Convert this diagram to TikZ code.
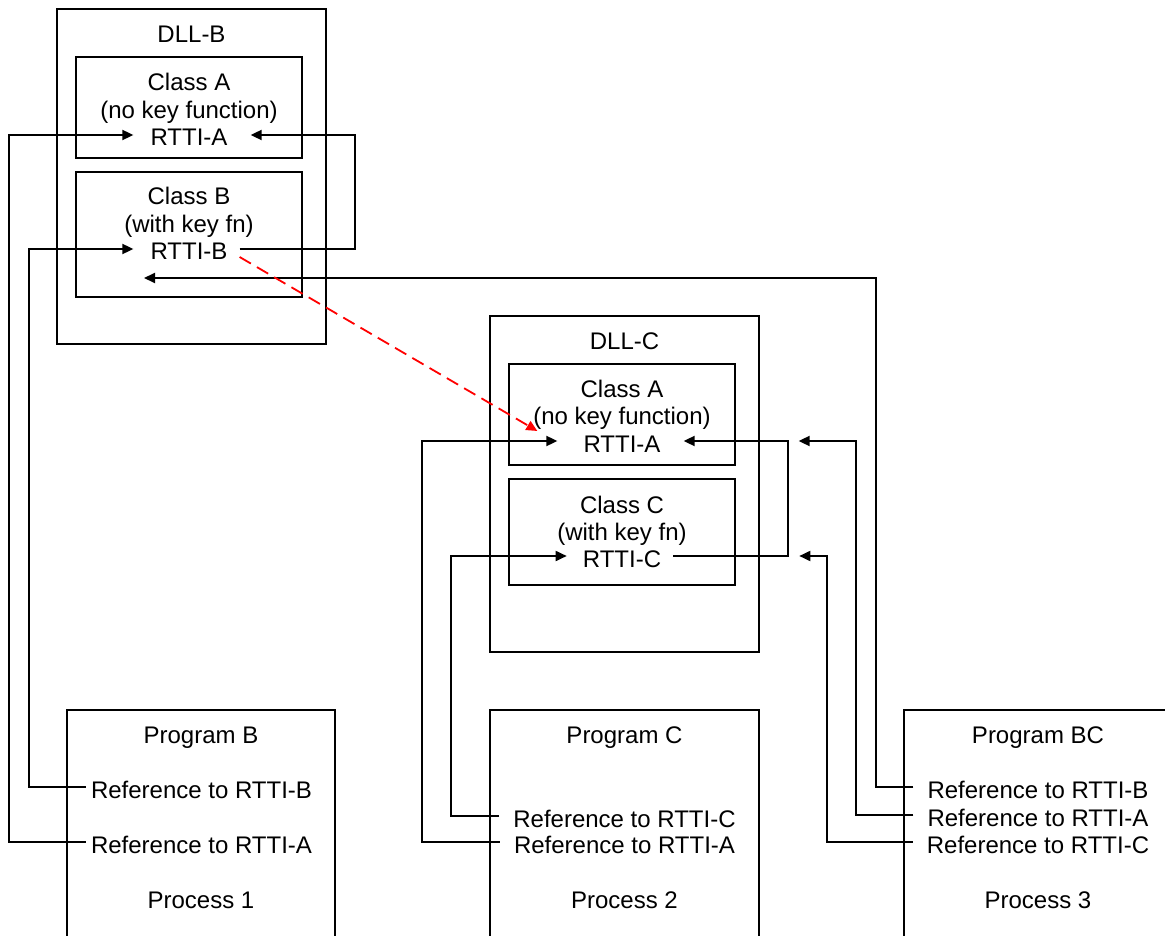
\documentclass[tikz,border=0pt]{standalone}
\usepackage{fontspec}
\setmainfont{Liberation Sans}
\usetikzlibrary{arrows.meta}
\begin{document}
\begin{tikzpicture}[x=1pt,y=-1pt,
  box/.style={draw, line width=2pt, inner sep=0pt},
  lbl/.style={font=\fontsize{24}{28}\selectfont, inner sep=0pt, text height=22pt, text depth=0pt, anchor=base},
  conn/.style={line width=1.8pt, -{Triangle[length=11pt,width=10pt]}},
  redconn/.style={line width=1.8pt, red, dash pattern=on 13pt off 7pt, -{Triangle[length=11pt,width=10pt]}}
]
\useasboundingbox (0,0) rectangle (1165,936);
\fill[white] (0,0) rectangle (1165,936);
\clip (0,0) rectangle (1165,936);

% ---- DLL-B ----
\node[box, minimum width=269pt, minimum height=335pt] (dllB) at (191.5,176.5) {};
\node[lbl] (dllBt) at (191.5,43) {DLL-B};
\node[box, minimum width=226pt, minimum height=101pt] (bAbox) at (189,107.5) {};
\node[lbl] (bA1) at (189,91) {Class A};
\node[lbl] (bA2) at (189,118.5) {(no key function)};
\node[lbl] (bArtti) at (189,146) {RTTI-A};
\node[box, minimum width=226pt, minimum height=125pt] (bBbox) at (189,234.5) {};
\node[lbl] (bB1) at (189,205) {Class B};
\node[lbl] (bB2) at (189,232.5) {(with key fn)};
\node[lbl] (bBrtti) at (189,260) {RTTI-B};
\coordinate (bBin) at (144,278);

% ---- DLL-C ----
\node[box, minimum width=269pt, minimum height=336pt] (dllC) at (624.5,484) {};
\node[lbl] (dllCt) at (624.5,349) {DLL-C};
\node[box, minimum width=226pt, minimum height=101pt] (cAbox) at (622,414.5) {};
\node[lbl] (cA1) at (622,397) {Class A};
\node[lbl] (cA2) at (622,424.5) {(no key function)};
\node[lbl] (cArtti) at (622,452) {RTTI-A};
\node[box, minimum width=226pt, minimum height=106pt] (cCbox) at (622,532) {};
\node[lbl] (cC1) at (622,513) {Class C};
\node[lbl] (cC2) at (622,540) {(with key fn)};
\node[lbl] (cCrtti) at (622,567) {RTTI-C};

% ---- Programs ----
\node[box, minimum width=268pt, minimum height=250pt] (pB) at (201,835) {};
\node[lbl] (pbT) at (201,743) {Program B};
\node[lbl] (pbRefB) at (201.5,798) {Reference to RTTI-B};
\node[lbl] (pbRefA) at (201.5,853) {Reference to RTTI-A};
\node[lbl] (pbP) at (201,908) {Process 1};

\node[box, minimum width=269pt, minimum height=250pt] (pC) at (624.5,835) {};
\node[lbl] (pcT) at (624.5,743) {Program C};
\node[lbl] (pcRefC) at (624.5,827) {Reference to RTTI-C};
\node[lbl] (pcRefA) at (624.5,853) {Reference to RTTI-A};
\node[lbl] (pcP) at (624.5,908) {Process 2};

\node[box, minimum width=268pt, minimum height=250pt] (pBC) at (1038,835) {};
\node[lbl] (pbcT) at (1038,743) {Program BC};
\node[lbl] (pbcRefB) at (1038,798) {Reference to RTTI-B};
\node[lbl] (pbcRefA) at (1038,826) {Reference to RTTI-A};
\node[lbl] (pbcRefC) at (1038,853) {Reference to RTTI-C};
\node[lbl] (pbcP) at (1038,908) {Process 3};

% ---- columns ----
\coordinate (k1) at (9,0);
\coordinate (k2) at (29,0);
\coordinate (k3) at (355,0);
\coordinate (k4) at (876,0);
\coordinate (k5) at (422,0);
\coordinate (k6) at (451,0);
\coordinate (k7) at (788,0);
\coordinate (k8) at (856,0);
\coordinate (k9) at (827,0);

% ---- connectors ----
\draw[conn] ([xshift=-5pt]pbRefA.west) -- (pbRefA.west -| k1) |- ([xshift=-17pt]bArtti.west);
\draw[conn] ([xshift=-5pt]pbRefB.west) -- (pbRefB.west -| k2) |- ([xshift=-17pt]bBrtti.west);
\draw[conn] ([xshift=12pt]bBrtti.east) -- (bBrtti.east -| k3) |- ([xshift=23pt]bArtti.east);
\draw[conn] ([xshift=-14pt]pbcRefB.west) -- (pbcRefB.west -| k4) |- (bBin);

\draw[conn] ([xshift=-14pt]pcRefA.west) -- (pcRefA.west -| k5) |- ([xshift=-26pt]cArtti.west);
\draw[conn] ([xshift=-14pt]pcRefC.west) -- (pcRefC.west -| k6) |- ([xshift=-16pt]cCrtti.west);
\draw[conn] ([xshift=12pt]cCrtti.east) -- (cCrtti.east -| k7) |- ([xshift=23pt]cArtti.east);
\draw[conn] ([xshift=-14pt]pbcRefA.west) -- (pbcRefA.west -| k8) |- ([xshift=138pt]cArtti.east);
\draw[conn] ([xshift=-14pt]pbcRefC.west) -- (pbcRefC.west -| k9) |- ([xshift=138pt]cCrtti.east);

\draw[redconn] ([xshift=12pt,yshift=-8pt]bBrtti.east) -- ([xshift=-46pt,yshift=10pt]cArtti.west);
\end{tikzpicture}
\end{document}
